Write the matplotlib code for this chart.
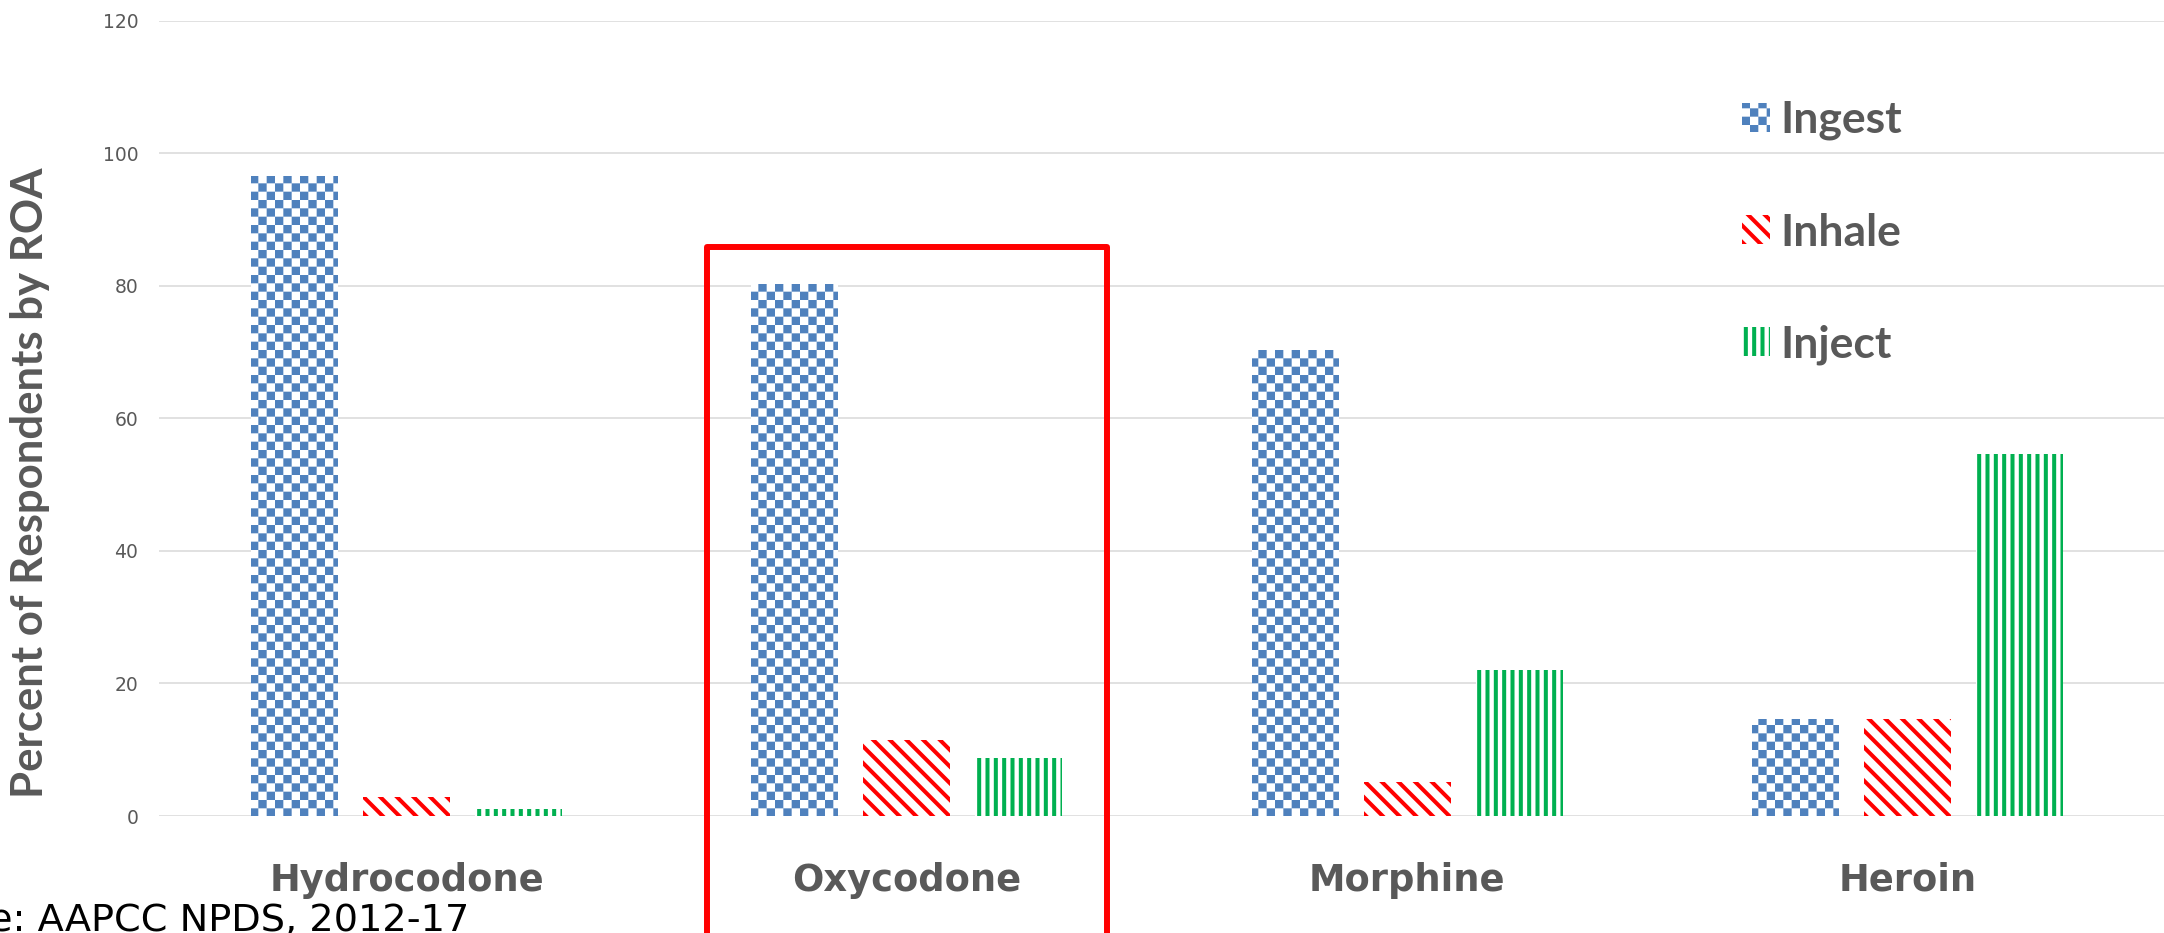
import warnings
import numpy as np
import matplotlib
matplotlib.use("Agg")
import matplotlib.pyplot as plt
import matplotlib.hatch as mhatch
from matplotlib.path import Path
from matplotlib.patches import Rectangle

warnings.filterwarnings("ignore")

# data
categories = ["Hydrocodone", "Oxycodone", "Morphine", "Heroin"]
series = ["Ingest", "Inhale", "Inject"]
ingest = [96.5, 80.3, 70.3, 14.6]
inhale = [2.8, 11.5, 5.2, 14.6]
inject = [1.0, 8.8, 22.0, 54.6]
highlight = "Oxycodone"
source_text = "Source: AAPCC NPDS, 2012-17"

DPI = 100
HATCH_LW = 2.9  # points
plt.rcParams["hatch.linewidth"] = HATCH_LW


# checkerboard hatch ('c'), squares inset so the hatch stroke fills the cell
class CheckerHatch(mhatch.HatchPatternBase):
    def __init__(self, hatch, density):
        self.cells = 12 if "c" in hatch else 0
        self.num_vertices = (self.cells ** 2 // 2) * 5

    def set_vertices_and_codes(self, vertices, codes):
        n = self.cells
        step = 1.0 / n
        inset = (HATCH_LW / 72.0) / 2.0
        k = 0
        for i in range(n):
            for j in range(n):
                if (i + j) % 2:
                    continue
                x0, x1 = i * step + inset, (i + 1) * step - inset
                y0, y1 = j * step + inset, (j + 1) * step - inset
                vertices[k:k + 5] = [(x0, y0), (x1, y0), (x1, y1), (x0, y1), (x0, y0)]
                codes[k:k + 5] = [Path.MOVETO, Path.LINETO, Path.LINETO,
                                  Path.LINETO, Path.CLOSEPOLY]
                k += 5


mhatch._hatch_types.append(CheckerHatch)

colors = ["#4F81BD", "#FF0000", "#00B050"]
hatches = ["c", "\\\\", "||"]
GRAY = "#595959"

fig = plt.figure(figsize=(21.64, 9.33), dpi=DPI)
ax = fig.add_axes([159 / 2164, 1 - 816 / 933, 2005 / 2164, (816 - 20.7) / 933])

x = np.arange(len(categories))
width = 0.174
step = 0.224
handles = []
for k, (name, vals) in enumerate(zip(series, [ingest, inhale, inject])):
    bars = ax.bar(x + (k - 1) * step, vals, width, facecolor="white",
                  edgecolor=colors[k], linewidth=0, hatch=hatches[k],
                  label=name, zorder=2)
    handles.append(bars)

ax.set_ylim(0, 120)
ax.set_xlim(-0.495, 3.513)
ax.set_yticks(np.arange(0, 121, 20))
ax.yaxis.grid(True, color="#D9D9D9", linewidth=1.1, zorder=0)
ax.set_axisbelow(True)
for s in ax.spines.values():
    s.set_visible(False)
ax.tick_params(axis="y", length=0, pad=15, labelsize=13.5, labelcolor=GRAY)
ax.tick_params(axis="x", length=0, pad=33)
ax.set_xticks(x)
ax.set_xticklabels(categories, fontsize=26.5, fontweight="bold", color=GRAY,
                   family="DejaVu Sans")

fig.text(30 / 2164, 1 - 483 / 933, "Percent of Respondents by ROA",
         rotation=90, ha="center", va="center", fontsize=31.5,
         fontweight="bold", color=GRAY, family="Lato")

leg = ax.legend(handles=handles, loc="upper left",
                bbox_to_anchor=(1742 / 2164, 1 - 100 / 933),
                bbox_transform=fig.transFigure, frameon=False,
                borderpad=0, borderaxespad=0, labelspacing=1.62,
                handlelength=0.62, handleheight=0.62, handletextpad=0.24,
                prop={"family": "Lato", "weight": "bold", "size": 32})
for t in leg.get_texts():
    t.set_color(GRAY)

# red highlight box around one category
hi = categories.index(highlight)
ax.add_patch(Rectangle((hi - 0.4, -30), 0.8, 115.9, fill=False,
                       edgecolor="#FF0000", linewidth=4.3, joinstyle="round",
                       clip_on=False, zorder=3))

fig.text(469 / 2164, 2 / 933, source_text, ha="right", va="baseline",
         fontsize=27.5, color="black", family="DejaVu Sans")

fig.savefig("out.png", dpi=DPI)
